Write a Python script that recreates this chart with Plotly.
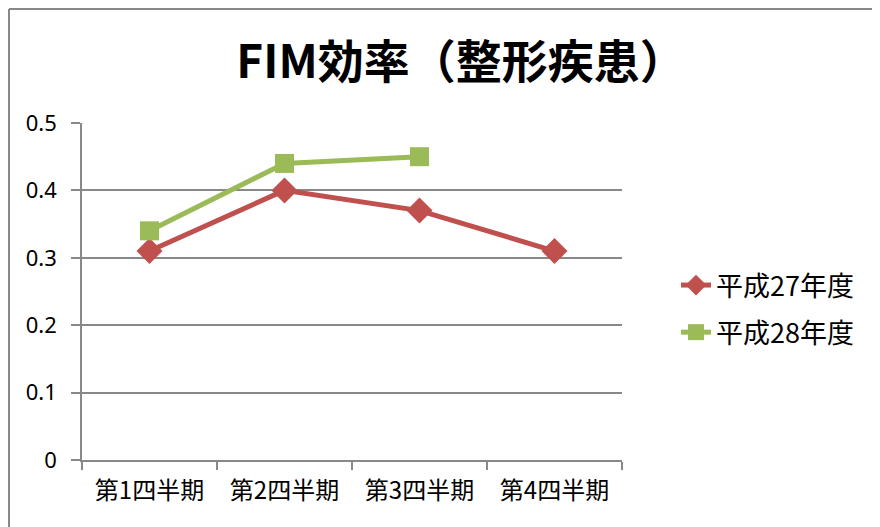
import plotly.graph_objects as go

categories = ["第1四半期", "第2四半期", "第3四半期", "第4四半期"]
h27_values = [0.31, 0.40, 0.37, 0.31]
h28_values = [0.34, 0.44, 0.45, None]
series_names = ["平成27年度", "平成28年度"]
y_ticks = [0, 0.1, 0.2, 0.3, 0.4, 0.5]
y_tick_labels = ["0", "0.1", "0.2", "0.3", "0.4", "0.5"]

RED = "#C0504D"
GREEN = "#9BBB59"
GRID = "#888888"
FONT = "Noto Sans CJK JP, Noto Sans, sans-serif"

W, H = 872, 519
L, T, R, B = 74, 115, 258, 67
PW, PH = W - L - R, H - T - B

fig = go.Figure()
fig.add_trace(go.Scatter(
    x=categories, y=h27_values, name=series_names[0], mode="lines+markers",
    line=dict(color=RED, width=5),
    marker=dict(symbol="diamond", size=20, color=RED),
    legendgroup="a",
))
fig.add_trace(go.Scatter(
    x=categories, y=h28_values, name=series_names[1], mode="lines+markers",
    line=dict(color=GREEN, width=5),
    marker=dict(symbol="square", size=19, color=GREEN),
    legendgroup="b", connectgaps=False,
))

fig.update_layout(
    width=W, height=H,
    margin=dict(l=L, r=R, t=T, b=B),
    paper_bgcolor="white", plot_bgcolor="white",
    title=dict(text="<b>FIM効率（整形疾患）</b>", x=(453 - L) / PW, xref="paper", xanchor="center",
               y=1 - 54 / H, yref="container", yanchor="middle",
               font=dict(family=FONT, size=46, color="black")),
    font=dict(family=FONT, color="black"),
    showlegend=True,
    legend=dict(x=(668 - L) / PW, xanchor="left", y=(PH + T - 301) / PH, yanchor="middle",
                font=dict(family=FONT, size=27, color="black"),
                traceorder="grouped", tracegroupgap=9,
                bgcolor="rgba(0,0,0,0)"),
    xaxis=dict(type="category", tickson="boundaries", ticks="outside", ticklen=8,
               tickcolor=GRID, tickwidth=1.5, showline=True, linecolor=GRID, linewidth=1.5,
               showgrid=False, range=[-0.5, 3.5], ticklabelstandoff=8,
               tickfont=dict(family=FONT, size=24, color="black")),
    yaxis=dict(range=[0, 0.5], tickvals=y_ticks, ticktext=y_tick_labels,
               ticks="outside", ticklen=9, tickcolor=GRID, tickwidth=1.5,
               showline=True, linecolor=GRID, linewidth=1.5,
               showgrid=True, gridcolor=GRID, gridwidth=1.5, zeroline=False,
               ticklabelstandoff=10,
               tickfont=dict(family="Noto Sans, sans-serif", size=22, color="black")),
    shapes=[
        dict(type="line", xref="paper", yref="paper", x0=(1 - L) / PW, x1=1.6,
             y0=(PH + T - 1) / PH, y1=(PH + T - 1) / PH, line=dict(color=GRID, width=2)),
        dict(type="line", xref="paper", yref="paper", x0=(1 - L) / PW, x1=(1 - L) / PW,
             y0=(PH + T - 1) / PH, y1=-0.5, line=dict(color=GRID, width=2)),
    ],
)

fig.write_html("out.html")
